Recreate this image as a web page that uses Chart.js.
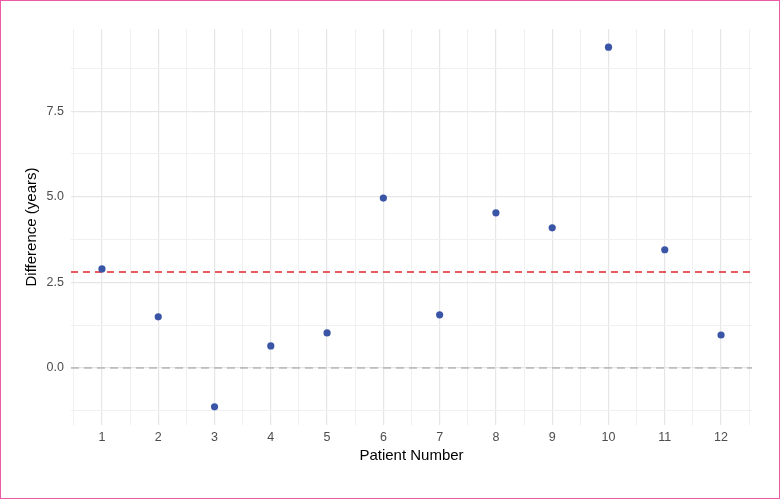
<!DOCTYPE html>
<html>
<head>
<meta charset="utf-8">
<script src="https://cdn.jsdelivr.net/npm/chart.js@4/dist/chart.umd.min.js"></script>
<style>
  html, body { margin: 0; padding: 0; background: #ffffff; }
  #wrap { position: relative; width: 780px; height: 499px; }
  #frame { position: absolute; left: 0; top: 0; width: 780px; height: 499px; box-sizing: border-box; border: 1px solid #ec5aa6; pointer-events: none; }
</style>
</head>
<body>
<div id="wrap">
  <canvas id="c" width="780" height="499"></canvas>
  <div id="frame"></div>
</div>
<script>
// ---- data ----
const patients = [1, 2, 3, 4, 5, 6, 7, 8, 9, 10, 11, 12];
const differences = [2.89, 1.49, -1.14, 0.64, 1.02, 4.96, 1.55, 4.53, 4.09, 9.37, 3.45, 0.96];
const meanDifference = 2.8;
const zeroLine = 0;
const xTickValues = [0.5, 1, 1.5, 2, 2.5, 3, 3.5, 4, 4.5, 5, 5.5, 6, 6.5, 7, 7.5, 8, 8.5, 9, 9.5, 10, 10.5, 11, 11.5, 12, 12.5];
const yTickValues = [-1.25, 0, 1.25, 2.5, 3.75, 5, 6.25, 7.5, 8.75];
const yLabelValues = [0, 2.5, 5, 7.5];

const points = patients.map((p, i) => ({ x: p, y: differences[i] }));

const refLines = {
  id: 'refLines',
  beforeDatasetsDraw(chart) {
    const { ctx, chartArea, scales } = chart;
    const draw = (val, color, width, dash) => {
      const y = scales.y.getPixelForValue(val);
      ctx.save();
      ctx.strokeStyle = color;
      ctx.lineWidth = width;
      ctx.setLineDash(dash);
      ctx.beginPath();
      ctx.moveTo(chartArea.left, y);
      ctx.lineTo(chartArea.right, y);
      ctx.stroke();
      ctx.restore();
    };
    draw(zeroLine, '#bdbdbd', 1.6, [8, 5]);
    draw(meanDifference, '#e3262b', 1.5, [7, 5]);
  }
};

new Chart(document.getElementById('c'), {
  type: 'scatter',
  data: {
    datasets: [{
      data: points,
      backgroundColor: '#3a55a6',
      borderWidth: 0,
      pointRadius: 3.6,
      pointHoverRadius: 3.6
    }]
  },
  options: {
    responsive: false,
    animation: false,
    events: [],
    plugins: { legend: { display: false }, tooltip: { enabled: false } },
    layout: { padding: { left: 0, top: 29, right: 28, bottom: 0 } },
    scales: {
      x: {
        type: 'linear',
        min: 0.45,
        max: 12.55,
        afterBuildTicks(scale) { scale.ticks = xTickValues.map(v => ({ value: v })); },
        afterFit(scale) { scale.height = 74; },
        border: { display: false },
        grid: {
          drawTicks: false,
          color: ctx => Number.isInteger(ctx.tick.value) ? '#e6e6e6' : '#f0f0f0',
          lineWidth: ctx => Number.isInteger(ctx.tick.value) ? 1.2 : 1
        },
        ticks: {
          autoSkip: false,
          maxRotation: 0,
          padding: 5,
          color: '#4d4d4d',
          font: { family: 'Liberation Sans', size: 12.5 },
          callback: v => Number.isInteger(v) ? String(v) : ''
        },
        title: {
          display: true,
          text: 'Patient Number',
          color: '#000000',
          font: { family: 'Liberation Sans', size: 15 },
          padding: { top: 0, bottom: 34 }
        }
      },
      y: {
        type: 'linear',
        min: -1.67,
        max: 9.9,
        afterBuildTicks(scale) { scale.ticks = yTickValues.map(v => ({ value: v })); },
        afterFit(scale) { scale.width = 71; },
        border: { display: false },
        grid: {
          drawTicks: false,
          color: ctx => yLabelValues.includes(ctx.tick.value) ? '#e6e6e6' : '#f0f0f0',
          lineWidth: ctx => yLabelValues.includes(ctx.tick.value) ? 1.2 : 1
        },
        ticks: {
          autoSkip: false,
          padding: 7,
          color: '#4d4d4d',
          font: { family: 'Liberation Sans', size: 12.5 },
          callback: v => yLabelValues.includes(v) ? v.toFixed(1) : ''
        },
        title: {
          display: true,
          text: 'Difference (years)',
          color: '#000000',
          font: { family: 'Liberation Sans', size: 15 },
          padding: { top: 23, bottom: 0 }
        }
      }
    }
  },
  plugins: [refLines]
});
</script>
</body>
</html>
